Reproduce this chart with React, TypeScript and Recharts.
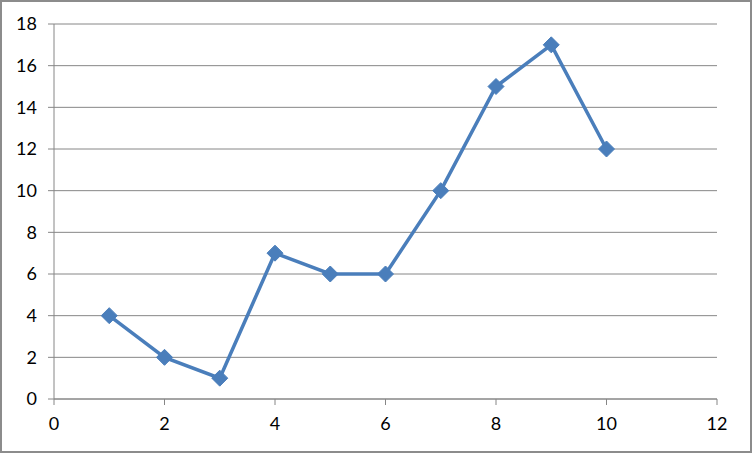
import React from "react";
import { LineChart, Line, XAxis, YAxis, CartesianGrid } from "recharts";

const xValues = [1, 2, 3, 4, 5, 6, 7, 8, 9, 10];
const yValues = [4, 2, 1, 7, 6, 6, 10, 15, 17, 12];
const xTicks = [0, 2, 4, 6, 8, 10, 12];
const yTicks = [0, 2, 4, 6, 8, 10, 12, 14, 16, 18];

const data = xValues.map((x, i) => ({ x, y: yValues[i] }));

const Diamond = (props: any) => {
  const { cx, cy } = props;
  if (cx == null || cy == null) return null;
  const r = 8;
  return (
    <polygon
      points={`${cx},${cy - r} ${cx + r},${cy} ${cx},${cy + r} ${cx - r},${cy}`}
      fill="#4a7ebb"
      stroke="#4a7ebb"
      strokeWidth={1}
    />
  );
};

export default function App() {
  const tickStyle = { fill: "#000", fontSize: 18, fontFamily: "Lato, 'Open Sans', sans-serif" };
  return (
    <div style={{ position: "absolute", left: 0, top: 0, width: 752, height: 453, background: "#fff" }}>
      <LineChart width={752} height={453} data={data} margin={{ top: 24, right: 35, bottom: 14, left: 0 }}>
        <CartesianGrid vertical={false} stroke="#868686" strokeWidth={1} />
        <XAxis
          dataKey="x"
          type="number"
          domain={[0, 12]}
          ticks={xTicks}
          stroke="#868686"
          tickSize={6}
          tickMargin={12}
          height={40}
          tick={tickStyle}
        />
        <YAxis
          type="number"
          domain={[0, 18]}
          ticks={yTicks}
          stroke="#868686"
          tickSize={6}
          tickMargin={11}
          width={54}
          tick={tickStyle}
        />
        <Line
          dataKey="y"
          stroke="#4a7ebb"
          strokeWidth={3.5}
          dot={<Diamond />}
          activeDot={false}
          isAnimationActive={false}
        />
      </LineChart>
      <div
        style={{
          position: "absolute",
          left: 0,
          top: 0,
          width: 752,
          height: 453,
          boxSizing: "border-box",
          border: "2px solid #8c8c8c",
          pointerEvents: "none",
        }}
      />
    </div>
  );
}
